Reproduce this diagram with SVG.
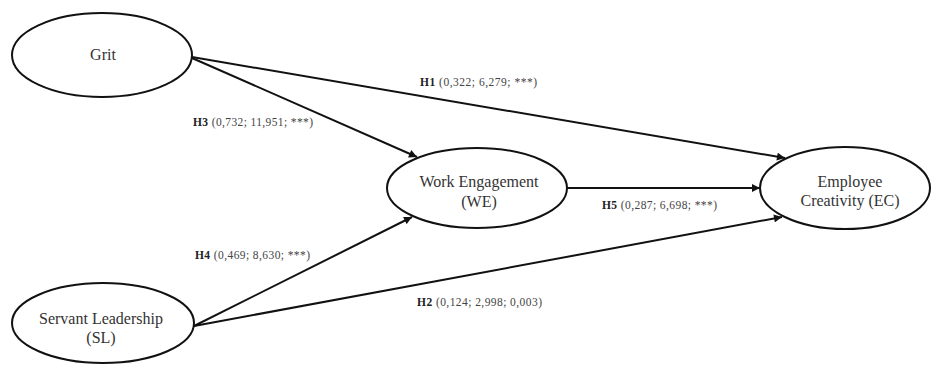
<svg xmlns="http://www.w3.org/2000/svg" width="931" height="365" viewBox="0 0 931 365">
<defs>
<style>
.node ellipse{fill:#fff;stroke:#111;stroke-width:2}
.node text{font-family:"Liberation Serif","Times New Roman",serif;font-size:16px;fill:#333;text-anchor:middle}
.lbl{font-family:"Liberation Serif","Times New Roman",serif;font-size:11.5px;fill:#444}
.lbl tspan.b{font-weight:bold;fill:#222}
.edges line{stroke:#111;stroke-width:2}
</style>
<marker id="arr" viewBox="0 0 10 10" refX="10" refY="5" markerWidth="10" markerHeight="8" markerUnits="userSpaceOnUse" orient="auto">
<path d="M0,0 L10,5 L0,10 z" fill="#111"/>
</marker>
</defs>
<rect width="931" height="365" fill="#fff"/>
<g id="edges" class="edges">
<line x1="192" y1="57" x2="785" y2="158" marker-end="url(#arr)"/>
<line x1="192" y1="58" x2="417" y2="157" marker-end="url(#arr)"/>
<line x1="194" y1="326" x2="412" y2="217" marker-end="url(#arr)"/>
<line x1="194" y1="326" x2="782" y2="217" marker-end="url(#arr)"/>
<line x1="567" y1="188" x2="760" y2="188" marker-end="url(#arr)"/>
</g>
<g id="grit" class="node">
<ellipse cx="102" cy="55" rx="90" ry="42"/>
<text x="103" y="60">Grit</text>
</g>
<g id="we" class="node">
<ellipse cx="477" cy="188" rx="90" ry="40"/>
<text x="479" y="187">Work Engagement</text>
<text x="479" y="207">(WE)</text>
</g>
<g id="sl" class="node">
<ellipse cx="103" cy="323" rx="91" ry="40"/>
<text x="101" y="324">Servant Leadership</text>
<text x="101" y="343">(SL)</text>
</g>
<g id="ec" class="node">
<ellipse cx="845" cy="188" rx="85" ry="41"/>
<text x="850" y="187">Employee</text>
<text x="850" y="206">Creativity (EC)</text>
</g>
<g id="labels">
<text class="lbl" x="420" y="86" textLength="117" lengthAdjust="spacing"><tspan class="b">H1</tspan> (0,322; 6,279; ***)</text>
<text class="lbl" x="193" y="126" textLength="120" lengthAdjust="spacing"><tspan class="b">H3</tspan> (0,732; 11,951; ***)</text>
<text class="lbl" x="195" y="259" textLength="115" lengthAdjust="spacing"><tspan class="b">H4</tspan> (0,469; 8,630; ***)</text>
<text class="lbl" x="417" y="306" textLength="125" lengthAdjust="spacing"><tspan class="b">H2</tspan> (0,124; 2,998; 0,003)</text>
<text class="lbl" x="602" y="209" textLength="115" lengthAdjust="spacing"><tspan class="b">H5</tspan> (0,287; 6,698; ***)</text>
</g>
</svg>
